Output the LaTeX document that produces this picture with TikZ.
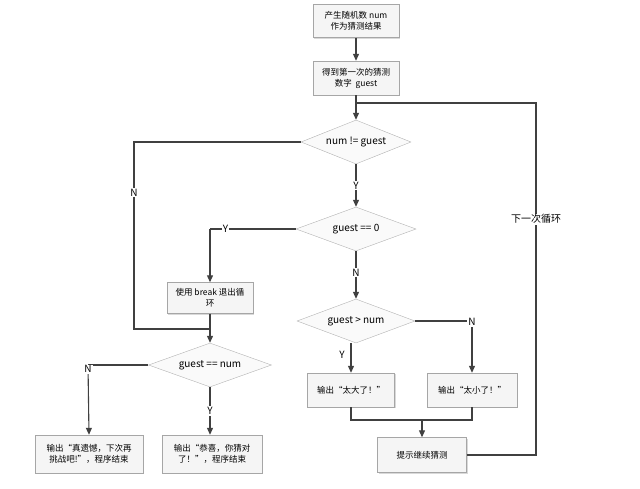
\documentclass[tikz,border=0pt]{standalone}
\usepackage{fontspec}
\setmainfont{Noto Sans CJK SC}
\usetikzlibrary{shapes.geometric,arrows.meta,shadows}
\begin{document}
\begin{tikzpicture}[x=1pt,y=-1pt,
 box/.style={draw=gray!70,fill=gray!8,minimum width=#1,inner sep=1pt,align=center,font=\fontsize{8.5}{11}\selectfont,drop shadow={shadow xshift=1pt,shadow yshift=-1pt,opacity=0.3}},
 dia/.style={diamond,aspect=2.5,draw=gray!60,fill=gray!4,inner sep=0pt,font=\fontsize{10}{12}\selectfont},
 ln/.style={draw=black!75,line width=1.1pt},
 ar/.style={ln,-{Triangle[length=7pt,width=6pt]}},
 lab/.style={font=\fontsize{10}{12}\selectfont,fill=white,inner sep=1pt}]
\useasboundingbox (0,0) rectangle (640,488);
\node[box=86pt,minimum height=33pt] (b1) at (356,21) {产生随机数 num\\作为猜测结果};
\node[box=86pt,minimum height=34pt] (b2) at (356,78) {得到第一次的猜测\\数字\ \ guest};
\node[dia,minimum width=110pt,minimum height=44pt] (d1) at (356,142) {num != guest};
\node[dia,minimum width=120pt,minimum height=44pt] (d2) at (356,229) {guest == 0};
\node[box=86pt,minimum height=31pt] (bk) at (210,298) {使用 break 退出循\\环};
\node[dia,minimum width=123pt,minimum height=44pt] (d3) at (210,365) {guest == num};
\node[box=108pt,minimum height=38pt] (b5) at (89,454) {输出“真遗憾，下次再\\挑战吧!”，程序结束};
\node[box=100pt,minimum height=38pt] (b6) at (212,454) {输出“恭喜，你猜对\\了！”，程序结束};
\node[dia,minimum width=118pt,minimum height=44pt] (d4) at (356,321) {guest > num};
\node[box=87pt,minimum height=34pt] (b7) at (351,390) {输出“太大了！”};
\node[box=90pt,minimum height=34pt] (b8) at (472,390) {输出“太小了！”};
\node[box=89pt,minimum height=35pt] (b9) at (422,455) {提示继续猜测};
\coordinate (lt) at (356,103);
\coordinate (j) at (422,420);
\coordinate (c1) at (134,142);
\coordinate (c2) at (134,329);
\coordinate (m) at (210,329);
\coordinate (c3) at (210,229);
\coordinate (c4) at (88,365);
\coordinate (c5) at (472,321);
\coordinate (c6) at (536,455);
\coordinate (c7) at (536,103);
\draw[ar] (b1) -- (b2);
\draw[ar] (b2) -- (d1);
\draw[ar] (d1) -- node[lab]{Y} (d2);
\draw[ar] (d2) -- node[lab,pos=0.45]{N} (d4);
\draw[ln] (d1.west) -- (c1) -- node[lab,pos=0.27]{N} (c2) -- (m);
\draw[ln] (d2.west) -- node[lab,pos=0.82]{Y} (c3);
\draw[ar] (c3) -- (bk.north);
\draw[ar] (bk) -- (d3);
\draw[ln] (d3.west) -- (c4);
\draw[ar] (c4) -- node[lab,pos=0.06]{N} (b5.north);
\draw[ar] (d3.south) -- node[lab,pos=0.5]{Y} (b6.north -| d3.south);
\draw[ln] (d4.east) -- (c5);
\draw[ar] (c5) -- node[lab,pos=0.02]{N} (b8.north);
\draw[ar] (d4.south -| b7.north) -- node[lab,pos=0.4,xshift=-9pt,fill=none]{Y} (b7.north);
\draw[ln] (b7.south) |- (j) -| (b8.south);
\draw[ar] (j) -- (b9);
\draw[ln] (b9.east) -- (c6) -- node[lab,pos=0.67]{下一次循环} (c7) -- (lt);
\end{tikzpicture}
\end{document}
